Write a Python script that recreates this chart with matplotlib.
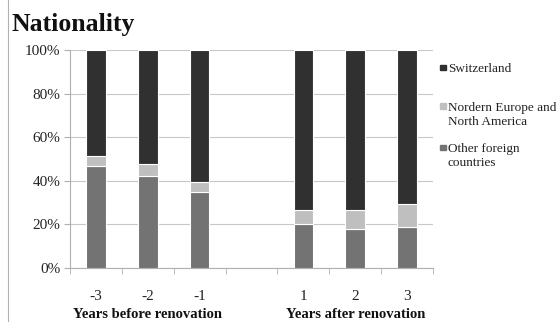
import numpy as np
import matplotlib.pyplot as plt
from matplotlib.patches import Rectangle
from matplotlib.ticker import PercentFormatter, FixedLocator

# share of guests by nationality (%), three years before and after the renovation
years = ["-3", "-2", "-1", "", "1", "2", "3"]
other_foreign = [47.0, 42.0, 35.0, 0.0, 20.0, 18.0, 18.7]
nordern = [4.5, 5.5, 4.3, 0.0, 6.6, 8.4, 10.7]
switzerland = [48.5, 52.5, 60.7, 0.0, 73.4, 73.6, 70.6]

series_names = ["Switzerland", "Nordern Europe and\nNorth America", "Other foreign\ncountries"]
colors = {"swiss": "#303030", "nordern": "#bfbfbf", "other": "#737373"}

plt.rcParams['font.family'] = ['Liberation Serif', 'DejaVu Serif']

W, H = 556, 322
fig = plt.figure(figsize=(W / 100, H / 100), dpi=100)
ax = fig.add_axes([70 / W, 1 - 268 / H, 363 / W, 218 / H])

x = np.arange(len(years))
w = 0.38
mask = np.array([y != "" for y in years])
xs = x[mask]
o = np.array(other_foreign)[mask]
n = np.array(nordern)[mask]
s = np.array(switzerland)[mask]

ax.bar(xs, o, w, color=colors["other"], edgecolor="white", linewidth=0.8, zorder=3)
ax.bar(xs, n, w, bottom=o, color=colors["nordern"], edgecolor="white", linewidth=0.8, zorder=3)
ax.bar(xs, s, w, bottom=o + n, color=colors["swiss"], edgecolor="white", linewidth=0.8, zorder=3)

ax.set_xlim(-0.5, len(years) - 0.5)
ax.set_ylim(0, 100)
ax.yaxis.set_major_locator(FixedLocator([0, 20, 40, 60, 80, 100]))
ax.yaxis.set_major_formatter(PercentFormatter(decimals=0))
ax.grid(axis="y", color="#c8c8c8", linewidth=0.8, zorder=0)

ax.set_xticks(x)
ax.set_xticklabels(years)
ax.set_xticks(np.arange(-0.5, len(years)), minor=True)
ax.tick_params(axis="x", which="major", length=0, pad=16, labelsize=11, colors="#222222")
ax.tick_params(axis="x", which="minor", length=4, color="#b0b0b0")
ax.tick_params(axis="y", length=4, color="#b0b0b0", labelsize=11, labelcolor="#222222", pad=3)

for side in ["top", "right"]:
    ax.spines[side].set_visible(False)
for side in ["left", "bottom"]:
    ax.spines[side].set_color("#b0b0b0")
    ax.spines[side].set_linewidth(0.8)

# group captions below the tick labels
ax.text(1, -0.215, "Years before renovation", transform=ax.get_xaxis_transform(),
        ha="center", va="center", fontsize=10.5, fontweight="bold", color="#111111")
ax.text(5, -0.215, "Years after renovation", transform=ax.get_xaxis_transform(),
        ha="center", va="center", fontsize=10.5, fontweight="bold", color="#111111")

fig.text(12 / W, 1 - 25 / H, "Nationality", ha="left", va="center", fontsize=18.5,
         fontweight="bold", color="#111111")

# legend: small squares next to the first line of each label
legend_rows = [67, 106, 147]
for name, key, yy in zip(series_names, ["swiss", "nordern", "other"], legend_rows):
    fig.add_artist(Rectangle((440 / W, 1 - (yy + 3) / H), 5.5 / W, 5.5 / H,
                             transform=fig.transFigure, color=colors[key]))
    fig.text(448 / W, 1 - (yy - 4) / H, name, ha="left", va="top", fontsize=9.5,
             linespacing=1.25, color="#222222")

# thin rule along the left edge of the figure
fig.add_artist(plt.Line2D([8 / W, 8 / W], [0, 1], transform=fig.transFigure,
                          color="#b0b0b0", linewidth=0.8))

fig.savefig("out.png", dpi=100)
